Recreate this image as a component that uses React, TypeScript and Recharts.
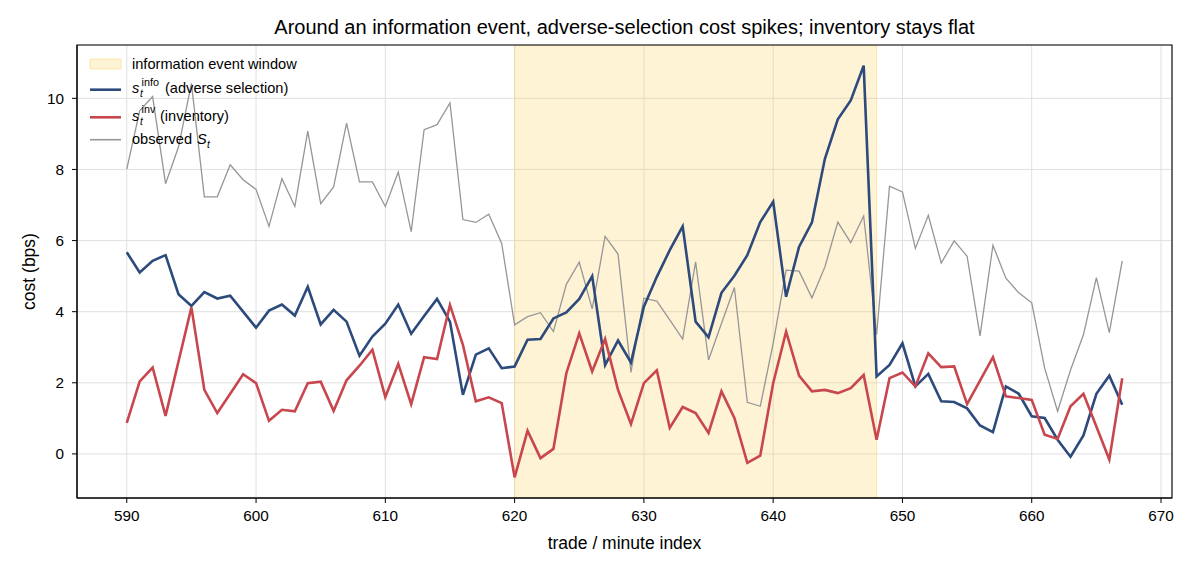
import React from "react";
import {
  LineChart,
  Line,
  XAxis,
  YAxis,
  CartesianGrid,
  ReferenceArea,
} from "recharts";

const startIndex = 590;

const infoCost = [
  5.67, 5.1, 5.43, 5.59, 4.49, 4.16, 4.55, 4.37, 4.45, 4.0,
  3.55, 4.03, 4.2, 3.89, 4.7, 3.64, 4.05, 3.72, 2.76, 3.3,
  3.66, 4.2, 3.38, 3.88, 4.36, 3.72, 1.66, 2.79, 2.97, 2.41,
  2.46, 3.21, 3.23, 3.81, 3.98, 4.36, 5.0, 2.5, 3.19, 2.57,
  4.14, 4.98, 5.73, 6.4, 3.72, 3.28, 4.53, 5.01, 5.59, 6.52,
  7.09, 4.42, 5.82, 6.51, 8.3, 9.41, 9.94, 10.92, 2.18, 2.5,
  3.11, 1.9, 2.25, 1.48, 1.46, 1.28, 0.8, 0.61, 1.9, 1.69,
  1.06, 1.01, 0.4, -0.08, 0.52, 1.69, 2.2, 1.38,
];

const invCost = [
  0.87, 2.04, 2.43, 1.07, 2.6, 4.12, 1.8, 1.15, 1.69, 2.24,
  1.99, 0.93, 1.24, 1.2, 1.99, 2.03, 1.21, 2.07, 2.48, 2.93,
  1.6, 2.53, 1.4, 2.72, 2.67, 4.19, 3.07, 1.48, 1.59, 1.43,
  -0.66, 0.65, -0.12, 0.14, 2.27, 3.39, 2.32, 3.23, 1.8, 0.84,
  1.99, 2.35, 0.73, 1.32, 1.15, 0.59, 1.76, 1.01, -0.25, -0.05,
  1.99, 3.44, 2.2, 1.76, 1.8, 1.71, 1.85, 2.22, 0.4, 2.13,
  2.29, 1.9, 2.83, 2.44, 2.46, 1.4, 2.06, 2.72, 1.62, 1.57,
  1.52, 0.54, 0.42, 1.34, 1.69, 0.77, -0.16, 2.13,
];

const observedSpread = [
  8.01, 9.65, 10.05, 7.6, 8.63, 10.42, 7.23, 7.23, 8.13, 7.71,
  7.44, 6.4, 7.74, 6.96, 9.08, 7.04, 7.51, 9.3, 7.65, 7.65,
  6.96, 7.93, 6.25, 9.12, 9.26, 9.87, 6.59, 6.51, 6.74, 5.92,
  3.63, 3.86, 3.97, 3.44, 4.77, 5.39, 4.08, 6.12, 5.62, 2.29,
  4.38, 4.3, 3.77, 3.23, 5.4, 2.64, 3.67, 4.68, 1.45, 1.34,
  3.11, 5.17, 5.14, 4.39, 5.26, 6.52, 5.94, 6.69, 3.35, 7.53,
  7.37, 5.78, 6.71, 5.37, 5.99, 5.56, 3.32, 5.87, 4.94, 4.53,
  4.25, 2.41, 1.2, 2.36, 3.35, 4.96, 3.41, 5.43,
];

const xTicks = [590, 600, 610, 620, 630, 640, 650, 660, 670];
const yTicks = [0, 2, 4, 6, 8, 10];
const eventWindow = [620, 648];
const xDomain = [586.15, 670.85];
const yDomain = [-1.24, 11.5];

const title =
  "Around an information event, adverse-selection cost spikes; inventory stays flat";
const xLabel = "trade / minute index";
const yLabel = "cost (bps)";

const data = infoCost.map((v, i) => ({
  t: startIndex + i,
  info: v,
  inv: invCost[i],
  obs: observedSpread[i],
}));

const BLUE = "#2d4a7c";
const RED = "#c8464e";
const GRAY = "#969696";
const SHADE = "#ffcf5c";
const FONT = "'Liberation Sans', Arial, Helvetica, sans-serif";
const TICK_FS = 15.3;
const LEG_FS = 14.6;
const LABEL_FS = 17.5;

export default function App() {
  const W = 1180;
  const H = 556;
  return (
    <div style={{ position: "relative", width: W, height: H, fontFamily: FONT }}>
      <LineChart
        width={W}
        height={H}
        data={data}
        margin={{ top: 37, right: 16, left: 0, bottom: 0 }}
      >
        <CartesianGrid stroke="#dcdcdc" strokeWidth={0.9} />
        <ReferenceArea
          x1={eventWindow[0]}
          x2={eventWindow[1]}
          y1={yDomain[0]}
          y2={yDomain[1]}
          fill={SHADE}
          fillOpacity={0.25}
          stroke={SHADE}
          strokeOpacity={0.45}
          strokeWidth={1}
          ifOverflow="hidden"
        />
        <XAxis
          dataKey="t"
          type="number"
          domain={xDomain}
          ticks={xTicks}
          allowDataOverflow
          height={66}
          tickSize={5}
          tickMargin={7}
          stroke="#000"
          tick={{ fill: "#000", fontSize: TICK_FS, fontFamily: FONT }}
          tickLine={{ stroke: "#000" }}
          axisLine={{ stroke: "#000" }}
        />
        <YAxis
          type="number"
          domain={yDomain}
          ticks={yTicks}
          allowDataOverflow
          width={69}
          tickSize={5}
          tickMargin={8}
          stroke="#000"
          tick={{ fill: "#000", fontSize: TICK_FS, fontFamily: FONT }}
          tickLine={{ stroke: "#000" }}
          axisLine={{ stroke: "#000" }}
        />
        <Line
          type="linear"
          dataKey="obs"
          stroke={GRAY}
          strokeWidth={1.3}
          dot={false}
          isAnimationActive={false}
        />
        <Line
          type="linear"
          dataKey="info"
          stroke={BLUE}
          strokeWidth={2.6}
          dot={false}
          isAnimationActive={false}
        />
        <Line
          type="linear"
          dataKey="inv"
          stroke={RED}
          strokeWidth={2.6}
          dot={false}
          isAnimationActive={false}
        />
        <ReferenceArea
          x1={xDomain[0]}
          x2={xDomain[1]}
          y1={yDomain[0]}
          y2={yDomain[1]}
          fill="none"
          stroke="#000"
          strokeWidth={1.1}
          ifOverflow="visible"
        />
      </LineChart>
      <svg
        width={W}
        height={H}
        style={{ position: "absolute", left: 0, top: 0, pointerEvents: "none" }}
        fontFamily={FONT}
      >
        <text x={616.5} y={26} textAnchor="middle" fontSize={20} fill="#000">
          {title}
        </text>
        <text x={616.5} y={541} textAnchor="middle" fontSize={LABEL_FS} fill="#000">
          {xLabel}
        </text>
        <text
          x={21}
          y={263.5}
          textAnchor="middle"
          dominantBaseline="central"
          fontSize={LABEL_FS}
          fill="#000"
          transform="rotate(-90 21 263.5)"
        >
          {yLabel}
        </text>

        {/* legend */}
        <rect
          x={82}
          y={51}
          width={31}
          height={10}
          fill={SHADE}
          fillOpacity={0.25}
          stroke={SHADE}
          strokeOpacity={0.45}
        />
        <text x={124} y={60.8} fontSize={LEG_FS} fill="#000">
          information event window
        </text>

        <line x1={82} x2={113} y1={81.7} y2={81.7} stroke={BLUE} strokeWidth={2.6} />
        <text x={124} y={85.3} fontSize={LEG_FS} fill="#000" fontStyle="italic">s</text>
        <text x={132} y={88.8} fontSize={10.2} fill="#000" fontStyle="italic">t</text>
        <text x={133.5} y={77.5} fontSize={10.8} fill="#000">info</text>
        <text x={157} y={85.3} fontSize={LEG_FS} fill="#000">(adverse selection)</text>

        <line x1={82} x2={113} y1={109.3} y2={109.3} stroke={RED} strokeWidth={2.6} />
        <text x={124} y={113} fontSize={LEG_FS} fill="#000" fontStyle="italic">s</text>
        <text x={132} y={116.5} fontSize={10.2} fill="#000" fontStyle="italic">t</text>
        <text x={133.5} y={105.2} fontSize={10.8} fill="#000">inv</text>
        <text x={152} y={113} fontSize={LEG_FS} fill="#000">(inventory)</text>

        <line x1={82} x2={113} y1={131.7} y2={131.7} stroke={GRAY} strokeWidth={1.6} />
        <text x={124} y={136.3} fontSize={LEG_FS} fill="#000">observed</text>
        <text x={189} y={136.3} fontSize={LEG_FS} fill="#000" fontStyle="italic">S</text>
        <text x={199} y={139.8} fontSize={10.2} fill="#000" fontStyle="italic">t</text>
      </svg>
    </div>
  );
}
